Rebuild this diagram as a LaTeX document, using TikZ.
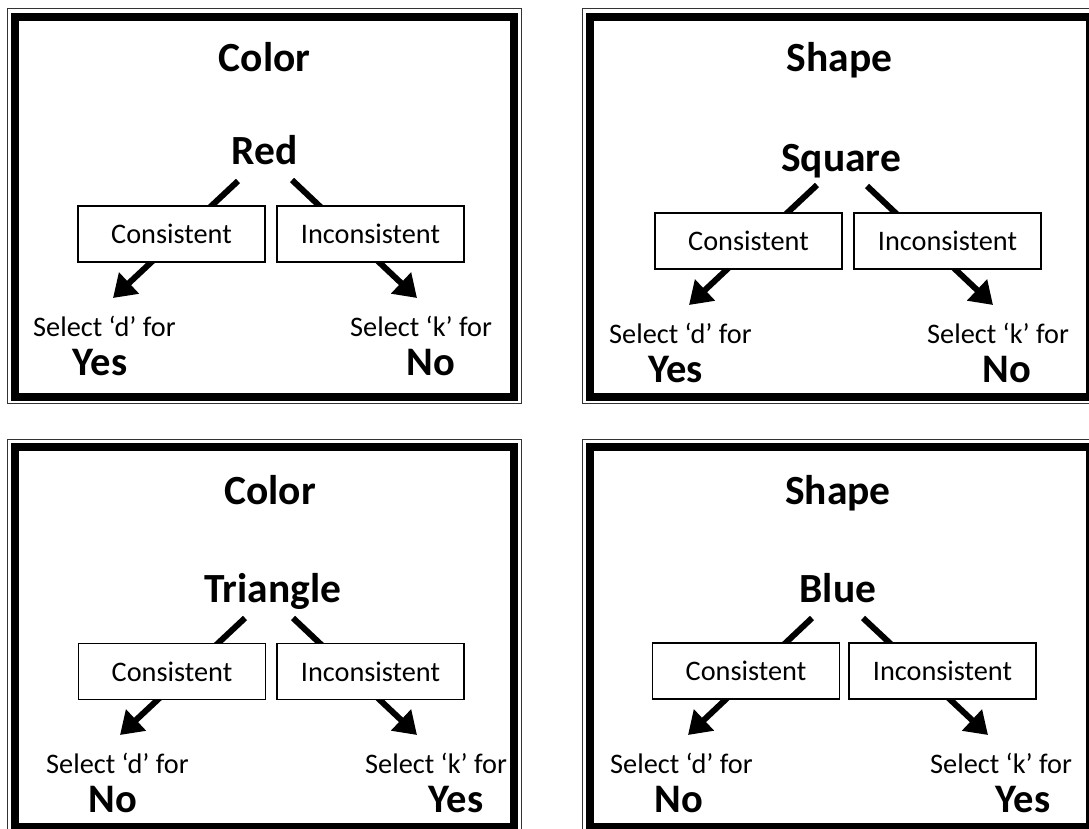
\documentclass[tikz,border=0pt]{standalone}
\usepackage{fontspec}
\setmainfont{Carlito}
\usetikzlibrary{arrows.meta}
\tikzset{
  panelout/.style={draw=black!80, line width=1.2pt},
  panelin/.style={draw=black, line width=8pt},
  choice/.style={draw=black, line width=1.6pt, fill=white, minimum width=187pt, minimum height=56pt, inner sep=0pt, font=\fontsize{28.3}{33}\selectfont},
  arr/.style={line width=6pt, -{Triangle[length=22pt,width=28pt]}},
  heading/.style={anchor=base, inner sep=0pt, font=\fontsize{41.5}{48}\selectfont\bfseries},
  stim/.style={anchor=base, inner sep=0pt, font=\fontsize{41.5}{48}\selectfont\bfseries},
  sel/.style={anchor=base west, inner sep=0pt, font=\fontsize{28.3}{33}\selectfont},
  ans/.style={anchor=base, inner sep=0pt, font=\fontsize{40.5}{47}\selectfont\bfseries},
}
\begin{document}
\begin{tikzpicture}[x=1pt,y=-1pt]
\useasboundingbox (0,0) rectangle (1089,828);

% ---------- Panel 1 ----------
\draw[panelout] (7.5,8.5) rectangle (521.5,403.5);
\draw[panelin] (15,16.5) rectangle (514,396.5);
\node[heading] (t1) at (264.5,71) {Color};
\node[stim] (s1) at (264.5,164) {Red};
\coordinate (a1ls) at (238,181); \coordinate (a1lt) at (113,298);
\coordinate (a1rs) at (292,180); \coordinate (a1rt) at (417,298);
\draw[arr] (a1ls) -- (a1lt);
\draw[arr] (a1rs) -- (a1rt);
\node[choice] (c1) at (171.5,234) {Consistent};
\node[choice] (i1) at (370.5,234) {Inconsistent};
\node[sel] (d1) at (33,336) {Select ‘d’ for};
\node[ans] (y1) at (100,375) {Yes};
\node[sel] (k1) at (350,336) {Select ‘k’ for};
\node[ans] (n1) at (431,375) {No};

% ---------- Panel 2 ----------
\draw[panelout] (582.5,8.5) rectangle (1097,403.5);
\draw[panelin] (590,16.5) rectangle (1089.5,396.5);
\node[heading] (t2) at (839.5,71) {Shape};
\node[stim] (s2) at (841,171) {Square};
\coordinate (a2ls) at (817,185); \coordinate (a2lt) at (689,305);
\coordinate (a2rs) at (867,186); \coordinate (a2rt) at (993,305);
\draw[arr] (a2ls) -- (a2lt);
\draw[arr] (a2rs) -- (a2rt);
\node[choice] (c2) at (748.5,241) {Consistent};
\node[choice] (i2) at (947.5,241) {Inconsistent};
\node[sel] (d2) at (609,343) {Select ‘d’ for};
\node[ans] (y2) at (675.5,382) {Yes};
\node[sel] (k2) at (927,343) {Select ‘k’ for};
\node[ans] (n2) at (1007,382) {No};

% ---------- Panel 3 ----------
\draw[panelout] (7.5,439.5) rectangle (521.5,834);
\draw[panelin] (15,447) rectangle (514,826.5);
\node[heading] (t3) at (270,504) {Color};
\node[stim] (s3) at (273,602) {Triangle};
\coordinate (a3ls) at (245,618); \coordinate (a3lt) at (120,735);
\coordinate (a3rs) at (293,618); \coordinate (a3rt) at (417,735);
\draw[arr] (a3ls) -- (a3lt);
\draw[arr] (a3rs) -- (a3rt);
\node[choice] (c3) at (172,671.5) {Consistent};
\node[choice] (i3) at (370.5,671.5) {Inconsistent};
\node[sel] (d3) at (46,773) {Select ‘d’ for};
\node[ans] (n3) at (113,812) {No};
\node[sel] (k3) at (365,773) {Select ‘k’ for};
\node[ans] (y3) at (456,812) {Yes};

% ---------- Panel 4 ----------
\draw[panelout] (582.5,439.5) rectangle (1097,834);
\draw[panelin] (590,447) rectangle (1089.5,826.5);
\node[heading] (t4) at (838,504) {Shape};
\node[stim] (s4) at (838,602) {Blue};
\coordinate (a4ls) at (812,618); \coordinate (a4lt) at (688,735);
\coordinate (a4rs) at (863,618); \coordinate (a4rt) at (988,735);
\draw[arr] (a4ls) -- (a4lt);
\draw[arr] (a4rs) -- (a4rt);
\node[choice] (c4) at (746,671) {Consistent};
\node[choice] (i4) at (942.5,671) {Inconsistent};
\node[sel] (d4) at (610,773) {Select ‘d’ for};
\node[ans] (n4) at (679,812) {No};
\node[sel] (k4) at (930,773) {Select ‘k’ for};
\node[ans] (y4) at (1023,812) {Yes};
\end{tikzpicture}
\end{document}
